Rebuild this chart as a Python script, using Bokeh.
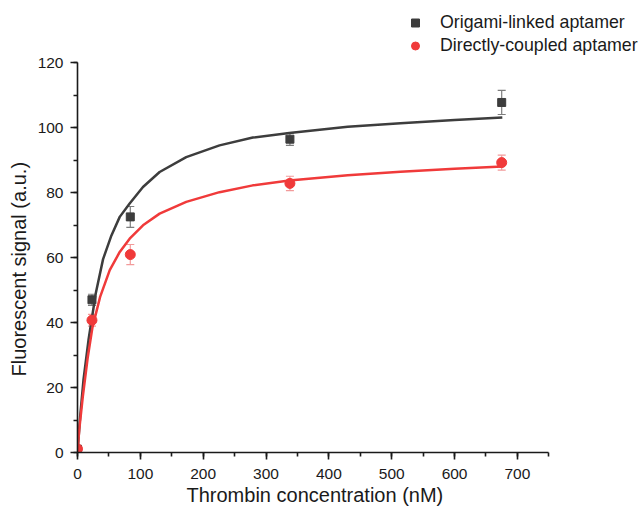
from bokeh.plotting import figure
from bokeh.models import (ColumnDataSource, Whisker, TeeHead, Legend, LegendItem,
                          SingleIntervalTicker, Range1d, Title)
from bokeh.embed import file_html
from bokeh.resources import INLINE

# ---- data ----
conc = [0, 23, 84, 338, 675]
origami_y = [1.0, 47.0, 72.5, 96.4, 107.7]
origami_err = [0.8, 1.7, 3.2, 1.9, 3.7]
direct_y = [1.1, 40.7, 60.9, 82.8, 89.2]
direct_err = [0.8, 1.8, 3.1, 2.2, 2.3]

# fitted curves
origami_fit_x = [0, 4.2, 9.5, 17.5, 29.1, 40.7, 54, 67.2, 83, 104.2, 130.7, 173, 226, 279, 337, 430, 514, 600, 676]
origami_fit_y = [0, 11.0, 22.3, 34.6, 49.0, 59.5, 66.8, 72.5, 76.6, 81.7, 86.3, 90.9, 94.5, 96.9, 98.3, 100.2, 101.3, 102.3, 103.1]
direct_fit_x = [0, 2.7, 8.4, 16.4, 23.8, 36, 51.3, 67.2, 83, 104.2, 130.7, 173, 226, 279, 337, 430, 514, 600, 676]
direct_fit_y = [0, 6.9, 17.1, 29.4, 38.5, 47.9, 56.1, 61.7, 65.8, 69.9, 73.5, 77.1, 80.1, 82.2, 83.7, 85.3, 86.4, 87.3, 88.0]

x_axis_bounds = (0, 750)
y_axis_bounds = (0, 120)
x_ticks_interval = 100
y_ticks_interval = 20
x_label = "Thrombin concentration (nM)"
y_label = "Fluorescent signal (a.u.)"
series_labels = ["Origami-linked aptamer", "Directly-coupled aptamer"]

FONT = "Liberation Sans"
BLACK = "#3d3d3d"
RED = "#f03a3a"
TXT = "#1a1a1a"

W, H = 641, 514
LEFT, BOTTOM = 75, 62
AXIS_X_END_PX = 473   # pixel length of the drawn x axis
AXIS_Y_END_PX = 390   # pixel length of the drawn y axis
frame_w = W - LEFT
frame_h = H - BOTTOM
x_max = x_axis_bounds[1] * frame_w / AXIS_X_END_PX
y_max = y_axis_bounds[1] * frame_h / AXIS_Y_END_PX

p = figure(width=W, height=H, x_range=Range1d(0, x_max), y_range=Range1d(0, y_max),
           output_backend="svg", toolbar_location=None,
           min_border_left=LEFT, min_border_right=0, min_border_top=0, min_border_bottom=BOTTOM)
p.outline_line_color = None
p.xgrid.visible = False
p.ygrid.visible = False
p.background_fill_color = "white"
p.border_fill_color = "white"

p.xaxis.ticker = SingleIntervalTicker(interval=x_ticks_interval, num_minor_ticks=2)
p.yaxis.ticker = SingleIntervalTicker(interval=y_ticks_interval, num_minor_ticks=2)
p.xaxis.bounds = x_axis_bounds
p.yaxis.bounds = y_axis_bounds
for ax in (p.xaxis, p.yaxis):
    ax.axis_line_width = 1.6
    ax.axis_line_color = TXT
    ax.major_tick_line_color = TXT
    ax.minor_tick_line_color = TXT
    ax.major_tick_line_width = 1.6
    ax.minor_tick_line_width = 1.6
    ax.major_tick_in = 0
    ax.major_tick_out = 7
    ax.minor_tick_in = 0
    ax.minor_tick_out = 4
    ax.major_label_text_font = FONT
    ax.major_label_text_font_size = "15.5px"
    ax.major_label_text_color = TXT
p.xaxis.major_label_standoff = 9
p.yaxis.major_label_standoff = 7

# axis titles, centred on the drawn axes (not on the whole frame)
xt = Title(text=x_label, align="left", offset=109, standoff=0, vertical_align="bottom",
           text_font=FONT, text_font_size="20px", text_font_style="normal",
           text_color=TXT)
p.add_layout(xt, "below")
yt = Title(text=y_label, align="left", offset=76, standoff=10,
           text_font=FONT, text_font_size="20px", text_font_style="normal",
           text_color=TXT)
p.add_layout(yt, "left")

# fit curves
p.line(origami_fit_x, origami_fit_y, line_color=BLACK, line_width=2.5, line_join="round")
p.line(direct_fit_x, direct_fit_y, line_color=RED, line_width=2.5, line_join="round")

# error bars
src_o = ColumnDataSource(dict(x=conc, y=origami_y,
                              lo=[a - b for a, b in zip(origami_y, origami_err)],
                              hi=[a + b for a, b in zip(origami_y, origami_err)]))
src_d = ColumnDataSource(dict(x=conc, y=direct_y,
                              lo=[a - b for a, b in zip(direct_y, direct_err)],
                              hi=[a + b for a, b in zip(direct_y, direct_err)]))
for src, col in ((src_o, "#7d7d7d"), (src_d, "#f29a9a")):
    w = Whisker(source=src, base="x", upper="hi", lower="lo", dimension="height",
                line_color=col, line_width=1.2,
                upper_head=TeeHead(size=8, line_color=col, line_width=1.2),
                lower_head=TeeHead(size=8, line_color=col, line_width=1.2))
    p.add_layout(w)

r_o = p.scatter("x", "y", source=src_o, marker="square", size=8,
                fill_color=BLACK, line_color=BLACK)
r_d = p.scatter("x", "y", source=src_d, marker="circle", size=10,
                fill_color=RED, line_color=RED)

legend = Legend(items=[LegendItem(label=series_labels[0], renderers=[r_o]),
                       LegendItem(label=series_labels[1], renderers=[r_d])],
                location=(328, 395), orientation="vertical")
legend.border_line_color = None
legend.background_fill_alpha = 0
legend.padding = 0
legend.margin = 0
legend.spacing = 0
legend.glyph_width = 20
legend.glyph_height = 23
legend.label_height = 23
legend.label_standoff = 15
legend.label_text_font = FONT
legend.label_text_font_size = "17.8px"
legend.label_text_color = TXT
p.add_layout(legend, "center")

open("out.html", "w").write(file_html(p, INLINE))
